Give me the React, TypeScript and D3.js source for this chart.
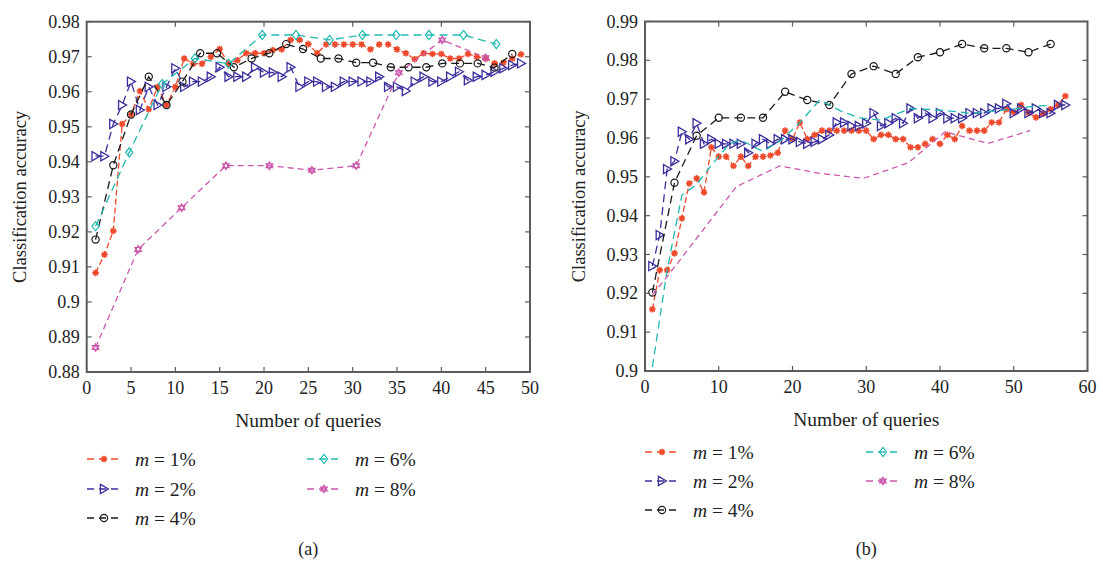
import React from 'react';
import * as d3 from 'd3';

// ---------- Data: panel (a) ----------
const aM1X = [1,2,3,4,5,6,7,8,9,10,11,12,13,14,15,16,17,18,19,20,21,22,23,24,25,26,27,28,29,30,31,32,33,34,35,36,37,38,39,40,41,42,43,44,45,46,47,48,49];
const aM1Y = [0.9083,0.9135,0.9203,0.9508,0.9535,0.9602,0.955,0.9614,0.9562,0.9614,0.9695,0.968,0.968,0.970,0.9722,0.968,0.969,0.971,0.971,0.971,0.9719,0.9721,0.9748,0.9748,0.9736,0.971,0.9735,0.9735,0.9735,0.9735,0.9735,0.9721,0.9735,0.9735,0.9721,0.971,0.9693,0.971,0.9708,0.9708,0.9695,0.9695,0.9708,0.97,0.9695,0.9681,0.9683,0.9695,0.9707];

const aM2X = [1,2,3,4,5,6,7,8,9,10,11,12,13,14,15,16,17,18,19,20,21,22,23,24,25,26,27,28,29,30,31,32,33,34,35,36,37,38,39,40,41,42,43,44,45,46,47,48,49];
const aM2Y = [0.9416,0.9416,0.9508,0.9562,0.9629,0.9548,0.9614,0.9562,0.9614,0.9667,0.9614,0.9629,0.9629,0.9643,0.967,0.9643,0.9643,0.9643,0.967,0.9655,0.9655,0.9643,0.967,0.9614,0.9629,0.9629,0.9614,0.9614,0.9629,0.9629,0.9629,0.9629,0.9643,0.9614,0.9614,0.9602,0.9629,0.9643,0.9629,0.9629,0.9643,0.9657,0.9633,0.9643,0.9648,0.9657,0.9667,0.9676,0.9681];

const aM4X = [1,3,5,7,9,10.8,12.8,14.7,16.6,18.6,20.6,22.5,24.4,26.4,28.4,30.4,32.3,34.3,36.3,38.3,40.1,42.1,44.1,46,48];
const aM4Y = [0.9178,0.939,0.9535,0.9643,0.9562,0.9629,0.971,0.971,0.967,0.9695,0.971,0.9736,0.9722,0.9695,0.9695,0.9683,0.9683,0.967,0.967,0.967,0.9681,0.9681,0.9681,0.9669,0.9708];

const aM6X = [1,4.8,8.5,12.2,16,19.8,23.6,27.4,31.1,34.9,38.6,42.5,46.2];
const aM6Y = [0.9216,0.9427,0.9622,0.9695,0.968,0.9762,0.9762,0.9748,0.9762,0.9762,0.9762,0.9762,0.9736];

const aM8X = [1,5.8,10.7,15.7,20.6,25.4,30.4,35.2,40.1,45];
const aM8Y = [0.887,0.915,0.9269,0.9389,0.9389,0.9376,0.9389,0.9654,0.9748,0.9697];

// ---------- Data: panel (b) ----------
const bM1X = [1,2,3,4,5,6,7,8,9,10,11,12,13,14,15,16,17,18,19,20,21,22,23,24,25,26,27,28,29,30,31,32,33,34,35,36,37,38,39,40,41,42,43,44,45,46,47,48,49,50,51,52,53,54,55,56,57];
const bM1Y = [0.9159,0.926,0.926,0.9303,0.9393,0.9483,0.9496,0.946,0.9576,0.9552,0.9552,0.9528,0.9552,0.9528,0.9552,0.9552,0.9555,0.9562,0.9619,0.9597,0.964,0.9597,0.9608,0.9619,0.9619,0.9619,0.9619,0.9619,0.9619,0.9619,0.9597,0.9608,0.9608,0.9597,0.9597,0.9576,0.9576,0.9585,0.9597,0.9585,0.9608,0.9597,0.9631,0.9619,0.9619,0.9619,0.964,0.964,0.9674,0.9666,0.9685,0.9665,0.9653,0.9663,0.9674,0.9685,0.9708];

const bM2X = [1,2,3,4,5,6,7,8,9,10,11,12,13,14,15,16,17,18,19,20,21,22,23,24,25,26,27,28,29,30,31,32,33,34,35,36,37,38,39,40,41,42,43,44,45,46,47,48,49,50,51,52,53,54,55,56,57];
const bM2Y = [0.927,0.935,0.952,0.954,0.9616,0.9597,0.9638,0.9585,0.9597,0.9585,0.9585,0.9585,0.9585,0.9562,0.9585,0.9597,0.9585,0.9597,0.9597,0.9597,0.959,0.9585,0.959,0.9597,0.9608,0.964,0.964,0.9631,0.9631,0.9638,0.9664,0.9631,0.9638,0.9651,0.9638,0.9676,0.9651,0.9664,0.9651,0.9664,0.9651,0.9651,0.9651,0.9664,0.9664,0.9664,0.9676,0.9676,0.9688,0.9664,0.9676,0.9664,0.9676,0.9664,0.9664,0.9685,0.9685];

const bM4X = [1,4,7,10,13,16,19,22,25,28,31,34,37,40,43,46,49,52,55];
const bM4Y = [0.9202,0.9485,0.9606,0.9652,0.9652,0.9652,0.9719,0.9698,0.9685,0.9765,0.9785,0.9765,0.9808,0.9821,0.9842,0.9831,0.9831,0.9821,0.9842];

const bM6X = [1,3,5,7,9,11.5,13,16,18.5,21,23.7,26.5,29,32,36,40,44,48,52,55];
const bM6Y = [0.901,0.926,0.9453,0.948,0.953,0.9586,0.9595,0.9565,0.9595,0.964,0.9698,0.967,0.9652,0.9646,0.9676,0.9672,0.9664,0.967,0.968,0.9685];

const bM8X = [1,3,12.4,18.3,23.7,29.6,35.7,40.7,46.5,52.2];
const bM8Y = [0.9196,0.9243,0.9475,0.9528,0.9509,0.9496,0.9536,0.9616,0.9586,0.9619];

// ---------- Ticks & labels ----------
const aYTicks = [0.88,0.89,0.9,0.91,0.92,0.93,0.94,0.95,0.96,0.97,0.98];
const aXTicksBottom = [0,5,10,15,20,25,30,35,40,45,50];
const aXTicksTop = [10,20,30,40];
const bYTicks = [0.9,0.91,0.92,0.93,0.94,0.95,0.96,0.97,0.98,0.99];
const bXTicksBottom = [0,10,20,30,40,50,60];
const bXTicksTop = [10,20,30,40,50];

const legendNames = ['1%','2%','4%','6%','8%'];

const COLORS = ['#ee4a2c', '#3a2f9c', '#1a1a1a', '#22b8b0', '#cc58ad'];
const FONT = '"Liberation Serif", "DejaVu Serif", serif';

type MarkerType = 'star' | 'tri' | 'circle' | 'diamond' | 'hex' | 'none';

function Marker({ type, x, y, color }: { type: MarkerType; x: number; y: number; color: string }) {
  if (type === 'star') {
    const r = 3.3;
    return (
      <g stroke={color} strokeWidth={1.6} fill={color}>
        <circle cx={x} cy={y} r={2.1} stroke="none" />
        {[0, 45, 90, 135].map((a) => {
          const rad = (a * Math.PI) / 180;
          return <line key={a} x1={x - r * Math.cos(rad)} y1={y - r * Math.sin(rad)} x2={x + r * Math.cos(rad)} y2={y + r * Math.sin(rad)} />;
        })}
      </g>
    );
  }
  if (type === 'tri') {
    return <path d={`M${x - 3.6},${y - 4.6}L${x + 4.4},${y}L${x - 3.6},${y + 4.6}Z`} fill="none" stroke={color} strokeWidth={1.3} />;
  }
  if (type === 'circle') {
    return <circle cx={x} cy={y} r={3.6} fill="none" stroke={color} strokeWidth={1.2} />;
  }
  if (type === 'diamond') {
    return <path d={`M${x},${y - 4.6}L${x + 3.6},${y}L${x},${y + 4.6}L${x - 3.6},${y}Z`} fill="none" stroke={color} strokeWidth={1.2} />;
  }
  if (type === 'hex') {
    const r = 3.8;
    const t1 = [0, 1, 2].map((i) => {
      const a = -Math.PI / 2 + (i * 2 * Math.PI) / 3;
      return `${x + r * Math.cos(a)},${y + r * Math.sin(a)}`;
    });
    const t2 = [0, 1, 2].map((i) => {
      const a = Math.PI / 2 + (i * 2 * Math.PI) / 3;
      return `${x + r * Math.cos(a)},${y + r * Math.sin(a)}`;
    });
    return (
      <g fill="none" stroke={color} strokeWidth={1.2}>
        <path d={`M${t1.join('L')}Z`} />
        <path d={`M${t2.join('L')}Z`} />
      </g>
    );
  }
  return null;
}

interface Series {
  xs: number[];
  ys: number[];
  color: string;
  dash: string;
  marker: MarkerType;
  legendMarker: MarkerType;
}

interface PanelProps {
  left: number; right: number; top: number; bottom: number;
  xDomain: [number, number]; yDomain: [number, number];
  xTicksBottom: number[]; xTicksTop: number[]; yTicks: number[];
  series: Series[];
  legendX: [number, number];
  legendRows: number[];
  caption: string;
  yLabelX: number;
}

const fmt = (v: number) => String(+v.toFixed(2));

function Panel(p: PanelProps) {
  const x = d3.scaleLinear().domain(p.xDomain).range([p.left, p.right]);
  const y = d3.scaleLinear().domain(p.yDomain).range([p.bottom, p.top]);
  const line = d3.line<[number, number]>().x((d) => x(d[0])).y((d) => y(d[1]));
  const tl = 5;
  const axisColor = '#5c5c5c';
  const cx = (p.left + p.right) / 2;
  const legendOrder = [0, 1, 2, 3, 4];
  const legendPos = (i: number) => (i < 3 ? { col: 0, row: i } : { col: 1, row: i - 3 });
  const clipId = `clip-${p.caption.replace(/\W/g, '')}`;
  return (
    <g>
      <defs>
        <clipPath id={clipId}>
          <rect x={p.left} y={p.top} width={p.right - p.left} height={p.bottom - p.top} />
        </clipPath>
      </defs>
      <g clipPath={`url(#${clipId})`}>
        {p.series.map((s, i) => {
          const pts: [number, number][] = s.xs.map((v, k) => [v, s.ys[k]]);
          return (
            <g key={i}>
              <path d={line(pts) || ''} fill="none" stroke={s.color} strokeWidth={1.3} strokeDasharray={s.dash} />
              {s.marker !== 'none' && pts.map((d, k) => <Marker key={k} type={s.marker} x={x(d[0])} y={y(d[1])} color={s.color} />)}
            </g>
          );
        })}
      </g>
      {/* frame */}
      <rect x={p.left} y={p.top} width={p.right - p.left} height={p.bottom - p.top} fill="none" stroke={axisColor} strokeWidth={2} />
      {/* ticks */}
      {p.yTicks.map((t) => (
        <g key={`y${t}`}>
          <line x1={p.left} x2={p.left + tl} y1={y(t)} y2={y(t)} stroke={axisColor} strokeWidth={1.2} />
          <line x1={p.right} x2={p.right - tl} y1={y(t)} y2={y(t)} stroke={axisColor} strokeWidth={1.2} />
          <text x={p.left - 7} y={y(t)} textAnchor="end" dominantBaseline="central" fontFamily={FONT} fontSize={18} fill="#222">{fmt(t)}</text>
        </g>
      ))}
      {p.xTicksBottom.map((t) => (
        <g key={`xb${t}`}>
          <line x1={x(t)} x2={x(t)} y1={p.bottom} y2={p.bottom - tl} stroke={axisColor} strokeWidth={1.2} />
          <text x={x(t)} y={p.bottom + 16} textAnchor="middle" dominantBaseline="central" fontFamily={FONT} fontSize={18} fill="#222">{t}</text>
        </g>
      ))}
      {p.xTicksTop.map((t) => (
        <line key={`xt${t}`} x1={x(t)} x2={x(t)} y1={p.top} y2={p.top + tl} stroke={axisColor} strokeWidth={1.2} />
      ))}
      <text x={cx} y={p.bottom + 48} textAnchor="middle" dominantBaseline="central" fontFamily={FONT} fontSize={19.5} fill="#222">Number of queries</text>
      <text transform={`translate(${p.yLabelX},${(p.top + p.bottom) / 2}) rotate(-90)`} textAnchor="middle" dominantBaseline="central" fontFamily={FONT} fontSize={18.5} fill="#222">Classification accuracy</text>
      {/* legend */}
      {legendOrder.map((i) => {
        const s = p.series[i];
        const { col, row } = legendPos(i);
        const lx = p.legendX[col];
        const ly = p.legendRows[row];
        return (
          <g key={`lg${i}`}>
            <line x1={lx} x2={lx + 35} y1={ly} y2={ly} stroke={s.color} strokeWidth={1.3} strokeDasharray="7,5" />
            <Marker type={s.legendMarker} x={lx + 17} y={ly} color={s.color} />
            <text x={lx + 48} y={ly} dominantBaseline="central" fontFamily={FONT} fontSize={19.5} fill="#222">
              <tspan fontStyle="italic">m</tspan> = {legendNames[i]}
            </text>
          </g>
        );
      })}
      <text x={cx} y={549} textAnchor="middle" dominantBaseline="central" fontFamily={FONT} fontSize={18} fill="#222">{p.caption}</text>
    </g>
  );
}

export default function App() {
  const aSeries: Series[] = [
    { xs: aM1X, ys: aM1Y, color: COLORS[0], dash: '6,3', marker: 'star', legendMarker: 'star' },
    { xs: aM2X, ys: aM2Y, color: COLORS[1], dash: '8,5', marker: 'tri', legendMarker: 'tri' },
    { xs: aM4X, ys: aM4Y, color: COLORS[2], dash: '8,5', marker: 'circle', legendMarker: 'circle' },
    { xs: aM6X, ys: aM6Y, color: COLORS[3], dash: '8,5', marker: 'diamond', legendMarker: 'diamond' },
    { xs: aM8X, ys: aM8Y, color: COLORS[4], dash: '6,4', marker: 'hex', legendMarker: 'hex' },
  ];
  const bSeries: Series[] = [
    { xs: bM1X, ys: bM1Y, color: COLORS[0], dash: '6,3', marker: 'star', legendMarker: 'star' },
    { xs: bM2X, ys: bM2Y, color: COLORS[1], dash: '8,5', marker: 'tri', legendMarker: 'tri' },
    { xs: bM4X, ys: bM4Y, color: COLORS[2], dash: '8,5', marker: 'circle', legendMarker: 'circle' },
    { xs: bM6X, ys: bM6Y, color: COLORS[3], dash: '8,5', marker: 'none', legendMarker: 'diamond' },
    { xs: bM8X, ys: bM8Y, color: COLORS[4], dash: '6,4', marker: 'none', legendMarker: 'hex' },
  ];
  return (
    <svg width={1103} height={567} style={{ position: 'absolute', left: 0, top: 0, background: '#fff' }}>
      <rect x={0} y={0} width={1103} height={567} fill="#fff" />
      <Panel left={86.7} right={530} top={21.7} bottom={372} xDomain={[0, 50]} yDomain={[0.88, 0.98]}
        xTicksBottom={aXTicksBottom} xTicksTop={aXTicksTop} yTicks={aYTicks} series={aSeries}
        legendX={[87, 307]} legendRows={[459, 489, 518]} caption="(a)" yLabelX={20} />
      <Panel left={645} right={1087.5} top={21.5} bottom={371} xDomain={[0, 60]} yDomain={[0.9, 0.99]}
        xTicksBottom={bXTicksBottom} xTicksTop={bXTicksTop} yTicks={bYTicks} series={bSeries}
        legendX={[645, 866]} legendRows={[452, 481, 510]} caption="(b)" yLabelX={579} />
    </svg>
  );
}
